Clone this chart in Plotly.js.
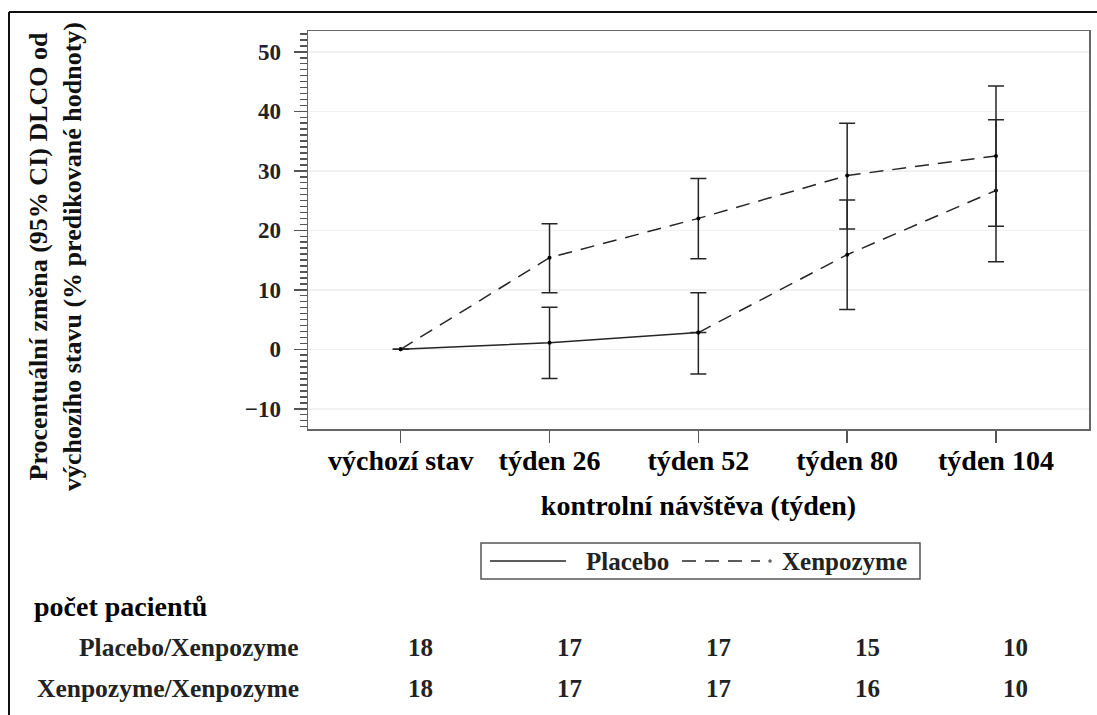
<!DOCTYPE html>
<html>
<head>
<meta charset="utf-8">
<script src="https://cdn.plot.ly/plotly-3.0.1.min.js"></script>
<style>
  html, body { margin: 0; padding: 0; background: #ffffff; }
  #chart { width: 1097px; height: 715px; }
</style>
</head>
<body>
<div id="chart"></div>
<script>
// ---- data ----
const visits = ["výchozí stav", "týden 26", "týden 52", "týden 80", "týden 104"];

// Placebo/Xenpozyme group (placebo until week 52, then Xenpozyme)
const placeboMean = [0, 1.1, 2.8, 15.9, 26.7];
const placeboLow  = [null, -4.9, -4.15, 6.7, 14.7];
const placeboHigh = [null, 7.05, 9.5, 25.1, 38.6];

// Xenpozyme/Xenpozyme group
const xenMean = [0, 15.4, 22.0, 29.2, 32.5];
const xenLow  = [null, 9.5, 15.2, 20.2, 20.7];
const xenHigh = [null, 21.1, 28.7, 38.0, 44.25];

// number of patients
const nRowLabels = ["Placebo/Xenpozyme", "Xenpozyme/Xenpozyme"];
const placeboN = [18, 17, 17, 15, 10];
const xenN     = [18, 17, 17, 16, 10];

const yTitle = "Procentuální změna (95% CI) DLCO od<br>výchozího stavu (% predikované hodnoty)";
const xTitle = "kontrolní návštěva (týden)";
const legendLabels = ["Placebo", "Xenpozyme"];
const tableTitle = "počet pacientů";

// ---- helpers ----
function errPlus(mean, high, idx) {
  return idx.map(i => high[i] == null ? 0 : high[i] - mean[i]);
}
function errMinus(mean, low, idx) {
  return idx.map(i => low[i] == null ? 0 : mean[i] - low[i]);
}
function pick(arr, idx) { return idx.map(i => arr[i]); }

const FONT = "Liberation Serif";
const LINE = "#262626";
const DASH = "14px,9px";

const solidIdx = [0, 1, 2];
const switchIdx = [2, 3, 4];
const allIdx = [0, 1, 2, 3, 4];

const errStyle = { color: LINE, thickness: 1.5, width: 8 };

const traces = [
  {
    name: legendLabels[0],
    x: pick(visits, solidIdx),
    y: pick(placeboMean, solidIdx),
    type: "scatter", mode: "lines+markers",
    line: { color: LINE, width: 1.5 },
    marker: { color: "#000", size: 4 },
    error_y: Object.assign({ type: "data", symmetric: false,
      array: errPlus(placeboMean, placeboHigh, solidIdx),
      arrayminus: errMinus(placeboMean, placeboLow, solidIdx) }, errStyle),
    showlegend: false
  },
  {
    name: legendLabels[0] + " → " + legendLabels[1],
    x: pick(visits, switchIdx),
    y: pick(placeboMean, switchIdx),
    type: "scatter", mode: "lines+markers",
    line: { color: LINE, width: 1.5, dash: DASH },
    marker: { color: "#000", size: 4 },
    error_y: Object.assign({ type: "data", symmetric: false,
      array: [0].concat(errPlus(placeboMean, placeboHigh, [3, 4])),
      arrayminus: [0].concat(errMinus(placeboMean, placeboLow, [3, 4])) }, errStyle),
    showlegend: false
  },
  {
    name: legendLabels[1],
    x: pick(visits, allIdx),
    y: pick(xenMean, allIdx),
    type: "scatter", mode: "lines+markers",
    line: { color: LINE, width: 1.5, dash: DASH },
    marker: { color: "#000", size: 4 },
    error_y: Object.assign({ type: "data", symmetric: false,
      array: errPlus(xenMean, xenHigh, allIdx),
      arrayminus: errMinus(xenMean, xenLow, allIdx) }, errStyle),
    showlegend: false
  }
];

// ---- layout geometry (pixels -> paper) ----
const W = 1097, H = 715;
const L = 308, R = 8, T = 31, B = 286;
const PW = W - L - R, PH = H - T - B;
const px = v => (v - L) / PW;
const py = v => (H - B - v) / PH;

const annotations = [
  {
    text: "<b>" + yTitle + "</b>", xref: "paper", yref: "paper",
    x: px(55), y: py(257), xanchor: "center", yanchor: "middle",
    textangle: -90, showarrow: false, align: "center",
    font: { family: FONT, size: 26, color: "#111" }
  },
  {
    text: "<b>" + legendLabels[0] + "</b>", xref: "paper", yref: "paper",
    x: px(584), y: py(561), xanchor: "left", yanchor: "middle",
    showarrow: false, font: { family: FONT, size: 25, color: "#222" }
  },
  {
    text: "<b>" + legendLabels[1] + "</b>", xref: "paper", yref: "paper",
    x: px(780), y: py(561), xanchor: "left", yanchor: "middle",
    showarrow: false, font: { family: FONT, size: 25, color: "#222" }
  },
  {
    text: "<b>" + tableTitle + "</b>", xref: "paper", yref: "paper",
    x: px(32), y: py(606), xanchor: "left", yanchor: "middle",
    showarrow: false, font: { family: FONT, size: 28, color: "#000" }
  },
  {
    text: "<b>" + nRowLabels[0] + "</b>", xref: "paper", yref: "paper",
    x: px(301), y: py(647), xanchor: "right", yanchor: "middle",
    showarrow: false, font: { family: FONT, size: 25.5, color: "#222" }
  },
  {
    text: "<b>" + nRowLabels[1] + "</b>", xref: "paper", yref: "paper",
    x: px(301), y: py(688), xanchor: "right", yanchor: "middle",
    showarrow: false, font: { family: FONT, size: 25.5, color: "#222" }
  }
];
visits.forEach((v, i) => {
  annotations.push({
    text: "<b>" + placeboN[i] + "</b>", xref: "x", yref: "paper",
    x: v, xshift: 20, y: py(647), xanchor: "center", yanchor: "middle",
    showarrow: false, font: { family: FONT, size: 25, color: "#222" }
  });
  annotations.push({
    text: "<b>" + xenN[i] + "</b>", xref: "x", yref: "paper",
    x: v, xshift: 20, y: py(688), xanchor: "center", yanchor: "middle",
    showarrow: false, font: { family: FONT, size: 25, color: "#222" }
  });
});

const shapes = [
  // outer figure frame (top and left)
  { type: "line", xref: "paper", yref: "paper", x0: px(9), x1: px(1097), y0: py(12), y1: py(12),
    line: { color: "#111", width: 2 } },
  { type: "line", xref: "paper", yref: "paper", x0: px(9), x1: px(9), y0: py(12), y1: py(715),
    line: { color: "#111", width: 2 } },
  // legend box
  { type: "rect", xref: "paper", yref: "paper", x0: px(481), x1: px(920), y0: py(579), y1: py(543),
    line: { color: "#555", width: 1.5 }, fillcolor: "rgba(0,0,0,0)" },
  // legend samples
  { type: "line", xref: "paper", yref: "paper", x0: px(490), x1: px(566), y0: py(561), y1: py(561),
    line: { color: LINE, width: 1.5 } },
  { type: "line", xref: "paper", yref: "paper", x0: px(682), x1: px(760), y0: py(561), y1: py(561),
    line: { color: LINE, width: 1.5, dash: DASH } },
  { type: "circle", xref: "paper", yref: "paper", x0: px(768.5), x1: px(771.5), y0: py(562.5), y1: py(559.5),
    line: { color: "#666", width: 0.5 }, fillcolor: "#666" }
];

const yRange = [-13.4, 53.5];

const layout = {
  width: W, height: H,
  margin: { l: L, r: R, t: T, b: B, pad: 0 },
  paper_bgcolor: "#ffffff",
  plot_bgcolor: "#ffffff",
  showlegend: false,
  font: { family: FONT, color: "#111" },
  xaxis: {
    type: "category",
    categoryarray: visits,
    range: [-0.623, 4.625],
    showgrid: false, zeroline: false,
    showline: true, linecolor: "#666", linewidth: 1.5, mirror: true,
    ticks: "outside", ticklen: 12, tickwidth: 1.5, tickcolor: "#555",
    ticklabelstandoff: -6,
    tickfont: { family: FONT, size: 28, color: "#000", weight: "bold" },
    title: { text: xTitle, standoff: 20, font: { family: FONT, size: 28, color: "#000", weight: "bold" } },
    automargin: false
  },
  yaxis: {
    range: yRange,
    tickmode: "linear", tick0: 0, dtick: 10,
    showgrid: true, gridcolor: "#f1f1f1", gridwidth: 1.5,
    zeroline: false,
    showline: true, linecolor: "#666", linewidth: 1.5, mirror: true,
    ticks: "outside", ticklen: 13, tickwidth: 1.5, tickcolor: "#555",
    ticklabelstandoff: 8,
    tickfont: { family: FONT, size: 23, color: "#222", weight: "bold" },
    minor: { dtick: 1, tick0: 0, ticks: "outside", ticklen: 7, tickwidth: 1.5, tickcolor: "#555" },
    automargin: false
  },
  annotations: annotations,
  shapes: shapes
};

Plotly.newPlot("chart", traces, layout, { displayModeBar: false, staticPlot: true });
</script>
</body>
</html>
